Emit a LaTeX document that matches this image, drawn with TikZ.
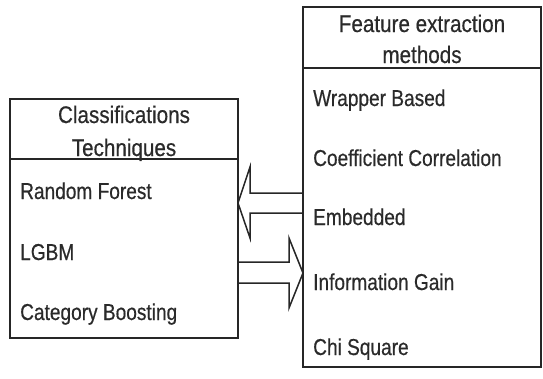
\documentclass[tikz,border=0pt]{standalone}
\usepackage{fontspec}
\setmainfont{Liberation Sans}[FakeStretch=0.83,FakeBold=0.5]
\newfontfamily\hdfont{Liberation Sans}[FakeStretch=0.86,FakeBold=0.5]
\definecolor{ink}{HTML}{262626}
\definecolor{txt}{HTML}{2a2a2a}
\begin{document}
\begin{tikzpicture}[x=1pt,y=-1pt,
  box/.style={draw=ink,line width=1.5pt,anchor=north west,inner sep=0pt,outer sep=0pt},
  item/.style={anchor=base west,inner sep=0pt,text=txt,font=\fontsize{23}{23}\selectfont},
  head/.style={anchor=base,inner sep=0pt,text=txt,font=\hdfont\fontsize{24}{24}\selectfont},
  blockarrow/.style={draw=ink,line width=1.5pt,line join=miter}]
\useasboundingbox (0,0) rectangle (543,378);
% left box
\node[box,minimum width=228pt,minimum height=60pt] (clsh) at (10,99) {};
\node[box,minimum width=228pt,minimum height=179pt] (clsb) at (10,159) {};
\node[head] (t1) at (124,123) {Classifications};
\node[head] (t2) at (124,156) {Techniques};
\node[item] (c1) at (20,199) {Random Forest};
\node[item] (c2) at (20,260) {LGBM};
\node[item] (c3) at (20,320) {Category Boosting};
% right box
\node[box,minimum width=238pt,minimum height=61pt] (feh) at (303,7) {};
\node[box,minimum width=238pt,minimum height=299pt] (feb) at (303,68) {};
\node[head] (t3) at (422,32) {Feature extraction};
\node[head] (t4) at (422,63) {methods};
\node[item] (f1) at (313,106) {Wrapper Based};
\node[item] (f2) at (313,166) {Coefficient Correlation};
\node[item] (f3) at (313,225) {Embedded};
\node[item] (f4) at (313,290) {Information Gain};
\node[item] (f5) at (313,355) {Chi Square};
% arrow from feature box to classification box
\coordinate (la1) at (feb.west |- 0,193);
\coordinate (la2) at (250,193);
\coordinate (la3) at (250,167);
\coordinate (latip) at (clsb.east |- 0,203);
\coordinate (la5) at (250,238);
\coordinate (la6) at (250,213);
\coordinate (la7) at (feb.west |- 0,213);
\draw[blockarrow] (la1) -- (la2) -- (la3) -- (latip) -- (la5) -- (la6) -- (la7);
% arrow from classification box to feature box
\coordinate (ra1) at (clsb.east |- 0,262);
\coordinate (ra2) at (289,262);
\coordinate (ra3) at (289,238);
\coordinate (ratip) at (feb.west |- 0,273);
\coordinate (ra5) at (289,308);
\coordinate (ra6) at (289,283);
\coordinate (ra7) at (clsb.east |- 0,283);
\draw[blockarrow] (ra1) -- (ra2) -- (ra3) -- (ratip) -- (ra5) -- (ra6) -- (ra7);
\end{tikzpicture}
\end{document}
